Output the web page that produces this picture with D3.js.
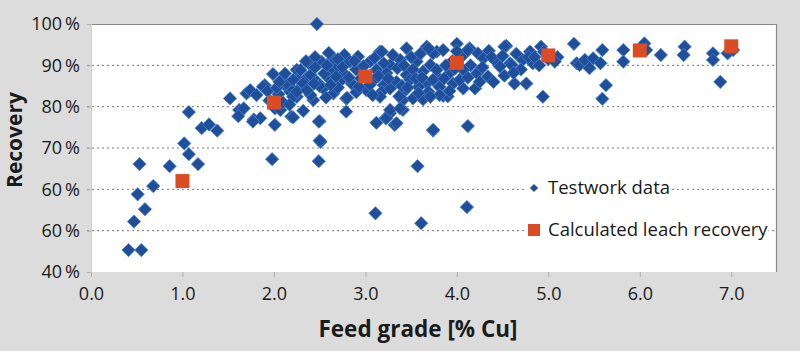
<!DOCTYPE html>
<html>
<head>
<meta charset="utf-8">
<script src="https://cdn.jsdelivr.net/npm/d3@7"></script>
<style>
  body { margin: 0; background: #dcdcdc; }
  svg text { font-family: "Open Sans", "DejaVu Sans", sans-serif; fill: #1a1a1a; }
</style>
</head>
<body>
<div id="chart"></div>
<script>
// testwork data: [feed grade % Cu, recovery %]
var testwork = [
  [0.41, 45.3], [0.55, 45.3], [0.47, 52.2], [0.59, 55.2], [0.51, 58.8], [0.68, 60.8],
  [0.53, 66.1], [0.86, 65.6], [1.17, 66.1], [1.07, 68.5], [1.02, 71.1], [1.07, 78.7],
  [1.21, 74.8], [1.29, 75.7], [1.38, 74.2], [1.52, 82.0], [1.62, 79.2], [1.67, 79.6],
  [1.61, 77.7], [1.78, 76.9], [1.85, 77.2], [1.77, 76.4], [2.01, 75.6], [2.19, 77.6],
  [1.70, 83.2], [1.74, 84.0], [1.81, 82.8], [1.90, 85.2], [1.99, 87.9], [2.09, 86.5],
  [2.14, 84.8], [2.18, 83.6], [2.25, 88.9], [2.27, 86.5], [2.25, 82.4], [2.01, 79.6],
  [2.07, 79.2], [1.98, 67.3], [1.88, 84.8], [2.14, 85.6], [2.21, 84.0], [2.21, 82.4],
  [2.05, 83.0], [1.95, 81.5], [2.10, 81.0], [1.93, 83.8], [2.03, 84.6], [2.12, 88.0],
  [2.30, 84.8], [2.36, 87.0], [2.06, 86.0], [2.17, 80.5],
  // outliers
  [2.47, 100.0], [2.21, 77.4], [2.50, 76.5], [2.51, 71.5], [2.49, 66.8], [2.79, 78.8],
  [3.12, 76.1], [3.22, 77.2], [3.32, 75.6], [3.41, 79.2], [3.27, 78.4], [3.74, 74.2],
  [4.12, 75.3], [3.57, 65.6], [3.11, 54.2], [3.61, 51.8], [4.11, 55.7], [2.32, 79.0],
  [2.43, 81.6], [2.49, 76.4],
  // dense band 2.2 - 3.8
  [2.77, 92.5], [2.92, 92.1], [3.16, 93.3], [3.45, 94.1], [3.67, 94.5], [3.78, 93.3],
  [2.52, 90.9], [2.69, 89.7], [2.83, 90.9], [3.05, 90.9], [3.27, 90.1], [3.38, 91.3],
  [3.56, 90.9], [3.71, 90.1], [2.65, 91.7], [2.60, 93.0], [2.38, 90.5], [2.45, 92.0],
  [2.29, 88.9], [2.40, 87.7], [2.61, 88.5], [2.76, 88.1], [3.12, 88.9], [3.23, 88.1],
  [3.45, 87.7], [3.63, 88.5], [3.78, 87.3], [2.90, 89.0], [3.00, 87.5], [3.35, 89.3],
  [2.21, 86.5], [2.32, 85.6], [2.47, 86.0], [2.60, 86.9], [2.72, 86.0], [2.85, 85.6],
  [3.09, 86.5], [3.34, 86.0], [3.49, 86.5], [3.67, 85.6], [2.95, 86.8], [3.20, 85.2],
  [2.25, 83.6], [2.40, 82.8], [2.54, 84.4], [2.65, 83.2], [2.79, 82.0], [3.01, 84.0],
  [3.18, 83.6], [3.27, 84.4], [3.42, 83.6], [3.58, 84.8], [3.69, 83.6], [2.90, 83.5],
  [2.80, 82.1], [3.16, 82.4], [3.41, 81.6], [3.52, 82.0], [3.63, 81.8], [3.37, 82.5],
  [3.23, 77.2], [3.34, 76.0], [3.27, 79.2], [3.38, 79.6], [3.74, 74.4], [2.50, 71.8],
  [3.85, 82.6], [3.90, 82.5], [2.35, 91.0], [2.55, 88.0], [3.10, 91.8], [3.50, 92.0],
  [2.45, 89.5], [2.58, 90.0], [2.70, 91.5], [2.88, 91.0], [2.98, 89.8], [3.20, 90.5],
  [3.30, 92.5], [3.42, 90.0], [3.60, 92.8], [3.52, 89.0], [2.50, 85.0], [2.68, 87.3],
  [2.82, 87.0], [2.93, 84.8], [3.05, 85.3], [3.14, 87.4], [3.40, 85.0], [3.55, 86.8],
  [3.62, 87.0], [2.57, 82.2], [2.70, 84.6], [3.08, 82.8], [3.46, 84.6], [2.36, 84.0],
  [2.44, 85.6], [2.62, 85.3], [2.75, 89.6], [3.25, 86.8], [3.58, 83.3],
  // dense band 3.7 - 5.0
  [4.00, 95.2], [4.14, 94.1], [4.23, 92.9], [4.54, 94.7], [4.35, 93.5], [4.65, 92.8],
  [3.74, 92.9], [3.85, 93.7], [4.07, 92.5], [4.29, 91.7], [4.43, 90.9], [4.58, 90.5],
  [4.72, 91.3], [4.83, 90.5], [3.95, 91.0], [4.15, 90.0],
  [3.78, 88.9], [3.92, 88.1], [4.07, 88.9], [4.22, 88.1], [4.34, 87.3], [4.47, 89.7],
  [4.60, 90.1], [3.74, 86.5], [3.81, 84.8], [3.96, 85.6], [4.07, 84.4], [4.20, 84.4],
  [4.03, 86.5], [3.81, 82.8], [3.71, 82.4], [4.40, 86.0], [4.52, 87.5],
  [4.12, 93.7], [4.52, 94.5], [4.80, 93.3], [4.92, 94.5], [3.69, 94.1], [3.18, 93.3],
  [4.63, 85.6], [4.76, 85.6], [4.94, 82.4], [3.88, 90.0], [3.98, 89.2], [3.86, 86.8],
  [4.12, 87.0], [4.28, 89.5], [4.38, 92.0], [4.50, 92.3], [4.70, 89.0], [4.78, 92.0],
  [4.25, 86.0], [3.92, 83.8], [4.00, 93.4], [4.62, 88.2],
  // above 4.8
  [4.85, 92.0], [4.95, 93.3], [5.00, 91.5], [5.10, 92.0], [5.07, 90.9], [4.90, 90.0],
  [5.28, 95.2], [5.31, 90.5], [5.34, 90.1], [5.40, 91.3], [5.45, 89.3], [5.49, 91.7],
  [5.57, 90.5], [5.59, 93.7], [5.63, 85.2], [5.59, 81.9], [5.82, 93.7], [5.82, 90.9],
  [6.05, 95.3], [6.07, 93.7], [6.23, 92.5], [6.49, 94.5], [6.48, 92.5], [6.80, 92.9],
  [6.80, 91.3], [6.88, 86.0], [6.96, 92.9], [7.02, 93.7]
];

// calculated leach recovery
var calcGrade = [1, 2, 3, 4, 5, 6, 7];
var calcRecovery = [62.0, 81.0, 87.3, 90.6, 92.4, 93.6, 94.6];

var xTicks = [0, 1, 2, 3, 4, 5, 6, 7];
var yTicks = [40, 50, 60, 70, 80, 90, 100];
var yTickLabels = ["40\u2009%", "60\u2009%", "60\u2009%", "70\u2009%", "80\u2009%", "90\u2009%", "100\u2009%"];
var gridValues = [50, 60, 70, 80, 90];

var width = 800, height = 351;
var margin = { top: 24, right: 23, bottom: 79, left: 91 };
var plot_width = width - margin.left - margin.right,
    plot_height = height - margin.top - margin.bottom;

var svg = d3.select('#chart').append('svg')
    .attr('width', width)
    .attr('height', height);

svg.append('rect').attr('width', width).attr('height', height).attr('fill', '#dcdcdc');

var plot = svg.append('g')
    .attr('transform', `translate(${margin.left},${margin.top})`);

var x = d3.scaleLinear().domain([0, 7.5]).range([0, plot_width]);
var y = d3.scaleLinear().domain([40, 100]).range([plot_height, 0]);

plot.append('rect')
    .attr('width', plot_width)
    .attr('height', plot_height)
    .attr('fill', '#ffffff');

// dotted grid
plot.selectAll('.grid')
    .data(gridValues)
    .enter().append('line')
    .attr('class', 'grid')
    .attr('x1', -4).attr('x2', plot_width)
    .attr('y1', d => y(d)).attr('y2', d => y(d))
    .attr('stroke', '#7a7a7a')
    .attr('stroke-width', 1)
    .attr('stroke-dasharray', '2,3');

// frame on top and right
plot.append('path')
    .attr('d', `M0,0.5H${plot_width - 0.5}V${plot_height}`)
    .attr('fill', 'none')
    .attr('stroke', '#8a8a8a')
    .attr('stroke-width', 1.2);

// axes
var xAxis = d3.axisBottom(x).tickValues(xTicks).tickFormat(d3.format('.1f')).tickSize(5).tickPadding(10);
var gx = plot.append('g')
    .attr('transform', `translate(0,${plot_height})`)
    .call(xAxis);
gx.select('.domain').remove();
gx.selectAll('line').attr('stroke', '#b0b0b0');
gx.selectAll('text').style('font-size', '18px').attr('fill', '#1a1a1a');

var yAxis = d3.axisLeft(y).tickValues(yTicks).tickFormat((d, i) => yTickLabels[i]).tickSize(4).tickPadding(7);
var gy = plot.append('g').call(yAxis);
gy.select('.domain').attr('stroke', '#d0d0d0');
gy.selectAll('line').attr('stroke', '#b0b0b0');
gy.selectAll('text').style('font-size', '18px').attr('fill', '#1a1a1a');

// testwork points (diamonds)
var diamond = d3.symbol().type(d3.symbolSquare).size(88);
plot.selectAll('.tw')
    .data(testwork)
    .enter().append('path')
    .attr('class', 'tw')
    .attr('d', diamond)
    .attr('transform', d => `translate(${x(d[0])},${y(d[1])}) rotate(45)`)
    .attr('fill', '#1f4f9b')
    .attr('stroke', '#4a7fcc')
    .attr('stroke-width', 0.8);

// calculated leach recovery (squares)
var calc = calcGrade.map((g, i) => ({ g: g, r: calcRecovery[i] }));
plot.selectAll('.calc')
    .data(calc)
    .enter().append('rect')
    .attr('class', 'calc')
    .attr('x', d => x(d.g) - 7)
    .attr('y', d => y(d.r) - 7)
    .attr('width', 14)
    .attr('height', 14)
    .attr('fill', '#dc4c24');

// legend
var legend = svg.append('g').attr('transform', 'translate(527,0)');
var items = [
    { label: 'Testwork data', cy: 188 },
    { label: 'Calculated leach recovery', cy: 230 }
];
items.forEach(function (it, i) {
    var g = legend.append('g');
    var t = g.append('text')
        .attr('x', 21)
        .attr('y', it.cy + 6)
        .style('font-size', '18.5px')
        .text(it.label);
    var bb = t.node().getBBox();
    g.insert('rect', 'text')
        .attr('x', -2)
        .attr('y', it.cy - 8)
        .attr('width', bb.x + bb.width + 2)
        .attr('height', 16)
        .attr('fill', '#ffffff');
    if (i == 0) {
        g.append('path')
            .attr('d', d3.symbol().type(d3.symbolSquare).size(34))
            .attr('transform', `translate(7,${it.cy}) rotate(45)`)
            .attr('fill', '#1f4f9b');
    } else {
        g.append('rect')
            .attr('x', 1).attr('y', it.cy - 6)
            .attr('width', 12).attr('height', 12)
            .attr('fill', '#dc4c24');
    }
});

// axis titles
svg.append('text')
    .attr('transform', `translate(22,140) rotate(-90)`)
    .attr('text-anchor', 'middle')
    .style('font-size', '21px')
    .style('font-weight', 'bold')
    .text('Recovery');

svg.append('text')
    .attr('x', 418)
    .attr('y', 337)
    .attr('text-anchor', 'middle')
    .style('font-size', '22.5px')
    .style('font-weight', 'bold')
    .text('Feed grade [% Cu]');
</script>
</body>
</html>
